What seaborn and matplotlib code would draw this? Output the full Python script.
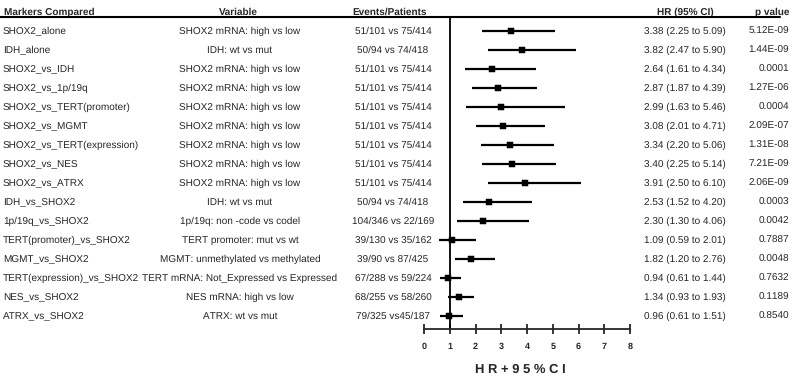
import numpy as np
import pandas as pd
import seaborn as sns
import matplotlib.pyplot as plt
import matplotlib.transforms as mtransforms

sns.set_style("white")
plt.rcParams["font.family"] = ["Liberation Sans", "DejaVu Sans"]
plt.rcParams["text.hinting"] = "no_hinting"
plt.rcParams["text.hinting_factor"] = 1

# ---- data ----
markers = [
    "SHOX2_alone", "IDH_alone", "SHOX2_vs_IDH", "SHOX2_vs_1p/19q",
    "SHOX2_vs_TERT(promoter)", "SHOX2_vs_MGMT", "SHOX2_vs_TERT(expression)",
    "SHOX2_vs_NES", "SHOX2_vs_ATRX", "IDH_vs_SHOX2", "1p/19q_vs_SHOX2",
    "TERT(promoter)_vs_SHOX2", "MGMT_vs_SHOX2", "TERT(expression)_vs_SHOX2",
    "NES_vs_SHOX2", "ATRX_vs_SHOX2",
]
variables = [
    "SHOX2 mRNA: high vs low", "IDH: wt vs mut", "SHOX2 mRNA: high vs low",
    "SHOX2 mRNA: high vs low", "SHOX2 mRNA: high vs low", "SHOX2 mRNA: high vs low",
    "SHOX2 mRNA: high vs low", "SHOX2 mRNA: high vs low", "SHOX2 mRNA: high vs low",
    "IDH: wt vs mut", "1p/19q: non -code vs codel", "TERT promoter: mut vs wt",
    "MGMT: unmethylated vs methylated", "TERT mRNA: Not_Expressed vs Expressed",
    "NES mRNA: high vs low", "ATRX: wt vs mut",
]
events = [
    "51/101 vs 75/414", "50/94 vs 74/418", "51/101 vs 75/414", "51/101 vs 75/414",
    "51/101 vs 75/414", "51/101 vs 75/414", "51/101 vs 75/414", "51/101 vs 75/414",
    "51/101 vs 75/414", "50/94 vs 74/418", "104/346 vs 22/169", "39/130 vs 35/162",
    "39/90 vs 87/425", "67/288 vs 59/224", "68/255 vs 58/260", "79/325 vs45/187",
]
hr = [3.38, 3.82, 2.64, 2.87, 2.99, 3.08, 3.34, 3.40, 3.91, 2.53, 2.30, 1.09, 1.82, 0.94, 1.34, 0.96]
ci_low = [2.25, 2.47, 1.61, 1.87, 1.63, 2.01, 2.20, 2.25, 2.50, 1.52, 1.30, 0.59, 1.20, 0.61, 0.93, 0.61]
ci_high = [5.09, 5.90, 4.34, 4.39, 5.46, 4.71, 5.06, 5.14, 6.10, 4.20, 4.06, 2.01, 2.76, 1.44, 1.93, 1.51]
p_values = [
    "5.12E-09", "1.44E-09", "0.0001", "1.27E-06", "0.0004", "2.09E-07", "1.31E-08",
    "7.21E-09", "2.06E-09", "0.0003", "0.0042", "0.7887", "0.0048", "0.7632",
    "0.1189", "0.8540",
]

df = pd.DataFrame({"row": np.arange(len(markers)), "hr": hr, "lo": ci_low, "hi": ci_high})

W, H = 793, 383
fig = plt.figure(figsize=(W / 100, H / 100), dpi=100)

# forest axes placed in pixel terms
x0, x1 = 424, 630
ytop, ybot = 17, 329
ax = fig.add_axes([x0 / W, (H - ybot) / H, (x1 - x0) / W, (ybot - ytop) / H])

row0, step = 31, 19
ax.set_xlim(0, 8)
ax.set_ylim((ybot - row0) / step, (ytop - row0) / step)

ax.hlines(df["row"], df["lo"], df["hi"], color="black", lw=1.6)
sns.scatterplot(data=df, x="hr", y="row", marker="s", s=18, color="black",
                edgecolor="black", ax=ax, zorder=3)
ax.axvline(1, color="black", lw=1.3)

for s in ["left", "top", "right"]:
    ax.spines[s].set_visible(False)
ax.spines["bottom"].set_linewidth(1.3)
ax.set_xticks(range(0, 9))
ax.tick_params(axis="x", direction="inout", length=7, width=1.3, pad=6, labelsize=6.5, bottom=True)
for lbl in ax.get_xticklabels():
    lbl.set_fontweight("bold")
ax.set_yticks([])
ax.set_xlabel("")
ax.set_ylabel("")

# text columns: x in figure pixels, y in data rows
tr = mtransforms.blended_transform_factory(fig.transFigure, ax.transData)
fs = 7.1
hy = (12 - row0) / step
headers = [
    (4, "Markers Compared", "left"),
    (238, "Variable", "center"),
    (390, "Events/Patients", "center"),
    (685, "HR (95% CI)", "center"),
    (789, "p value", "right"),
]
for px, txt, ha in headers:
    ax.text(px / W, hy, txt, transform=tr, ha=ha, va="center", fontsize=7,
            fontweight="bold", clip_on=False)

line_y = 1 - 17 / H
fig.add_artist(plt.Line2D([0, 780 / W], [line_y, line_y], color="black", lw=1.5,
                          transform=fig.transFigure))

for i in range(len(markers)):
    ax.text(3 / W, i, markers[i], transform=tr, ha="left", va="center", fontsize=fs, clip_on=False)
    ax.text(240 / W, i, variables[i], transform=tr, ha="center", va="center", fontsize=fs, clip_on=False)
    ax.text(393 / W, i, events[i], transform=tr, ha="center", va="center", fontsize=fs, clip_on=False)
    ax.text(685 / W, i, f"{hr[i]:.2f} ({ci_low[i]:.2f} to {ci_high[i]:.2f})", transform=tr,
            ha="center", va="center", fontsize=fs, clip_on=False)
    ax.text(789 / W, i, p_values[i], transform=tr, ha="right", va="center", fontsize=fs, clip_on=False)

fig.text(520 / W, 1 - 370 / H, "H R + 9 5 % C I", ha="center", va="center",
         fontsize=9, fontweight="bold")

fig.savefig("out.png", dpi=100)
